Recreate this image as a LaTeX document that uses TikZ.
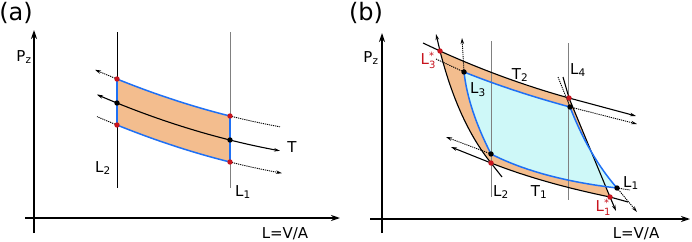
\documentclass[tikz,border=0pt]{standalone}
\usepackage{fontspec}
\setmainfont{DejaVu Sans}
\usetikzlibrary{arrows.meta}
\definecolor{orng}{RGB}{243,189,142}
\definecolor{cyn}{RGB}{206,248,248}
\definecolor{blu}{RGB}{30,112,245}
\definecolor{rd}{RGB}{200,20,30}
\definecolor{gry}{RGB}{128,128,128}
\newcommand{\Lst}[1]{L\rlap{\raisebox{5pt}{\fontsize{10}{10}\selectfont*}}\raisebox{-4pt}{\fontsize{10}{10}\selectfont#1}}
\begin{document}
\begin{tikzpicture}[x=1pt,y=-1pt,
  declare function={fa(\x)=79+0.405*(\x-117)-6.85*((\x-117)/100)^2;},
  ax/.style={line width=1.5pt,-{Stealth[length=9pt,width=6pt]}},
  vline/.style={line width=0.7pt,gry},
  iso/.style={line width=1.1pt},
  ext/.style={line width=0.9pt,dash pattern=on 1.2pt off 0.9pt},
  edge/.style={line width=1.5pt,blu},
  tip/.style={-{Stealth[length=6pt,width=3.5pt]}},
  lab/.style={font=\fontsize{15}{17}\selectfont,inner sep=0pt},
  panel/.style={font=\fontsize{24}{28}\selectfont,inner sep=0pt}]
\useasboundingbox (0,0) rectangle (692,241);
% (a)
\coordinate (a2u) at (117,79);\coordinate (a2m) at (117,103);\coordinate (a2l) at (117,125);
\coordinate (a1u) at (230,116);\coordinate (a1m) at (230,140);\coordinate (a1l) at (230,162);
\fill[orng] plot[domain=117:230,samples=40](\x,{fa(\x)}) -- plot[domain=230:117,samples=40](\x,{fa(\x)+46}) -- cycle;
\draw[vline,black] (117,32)--(117,188);\draw[vline] (230,32)--(230,188);
\draw[ax] (34,233)--(34,30);\draw[ax] (25,218)--(340,218);
\draw[iso,tip] plot[domain=117:97,samples=20](\x,{fa(\x)+24});\draw[iso,tip] plot[domain=117:280,samples=60](\x,{fa(\x)+24});
\draw[ext,tip] plot[domain=117:95,samples=20](\x,{fa(\x)});\draw[ext] plot[domain=230:280,samples=20](\x,{fa(\x)});
\draw[ext] plot[domain=117:97,samples=20](\x,{fa(\x)+46});\draw[ext,tip] plot[domain=230:282,samples=20](\x,{fa(\x)+46});
\draw[edge] plot[domain=117:230,samples=40](\x,{fa(\x)});\draw[edge] plot[domain=117:230,samples=40](\x,{fa(\x)+46});
\draw[edge] (a2u)--(a2l);\draw[edge] (a1u)--(a1l);
\foreach \p in {a2u,a2l,a1u,a1l} \fill[rd] (\p) circle[radius=2.7pt];
\foreach \p in {a2m,a1m} \fill (\p) circle[radius=2.7pt];
\node[panel] (pa) at (16,13) {(a)};\node[lab] (ya) at (24,57) {P\textsubscript{z}};
\node[lab] (xa) at (285,234) {L=V/A};\node[lab] (ta) at (292,147) {T};
\node[lab] (l2a) at (103,168) {L\textsubscript{2}};\node[lab] (l1a) at (243,192) {L\textsubscript{1}};
% (b)
\coordinate (s3) at (440,51);\coordinate (s4) at (569,98);\coordinate (s1) at (610,197);\coordinate (s2) at (491,163);
\coordinate (b3) at (464,72);\coordinate (b4) at (570,107);\coordinate (b1) at (617,188);\coordinate (b2) at (491,154);
\fill[orng] (s3) .. controls (482.7,70.3) and (525.7,86) .. (s4) -- (s1) .. controls (564.7,187.7) and (525,176.3) .. (s2)
  .. controls (469,135.7) and (452,98.3) .. (s3) -- cycle;
\fill[cyn] (b3) .. controls (496.7,85.1) and (532,96.7) .. (b4) .. controls (582.7,139.7) and (598.3,166.7) .. (b1)
  .. controls (565.7,182) and (523.7,170.7) .. (b2) .. controls (475.7,124) and (466.7,96.7) .. (b3) -- cycle;
\draw[vline] (491,41)--(491,197);\draw[vline] (568,43)--(568,200);
\draw[ax] (382,233)--(382,33);\draw[ax] (370,219)--(690,219);
\coordinate (t2a) at (423,43);\coordinate (t2b) at (636,116);\coordinate (t1a) at (451,147);\coordinate (t1b) at (628,202);
\coordinate (r3) at (436,34);\coordinate (r2) at (502,177);\coordinate (r4) at (563,77);\coordinate (r1) at (616,211);
\draw[iso] (t2a)--(s3) .. controls (482.7,70.3) and (525.7,86) .. (s4);\draw[iso,tip] (s4)--(t2b);
\draw[iso,tip] (s3)--(r3);\draw[iso] (s3) .. controls (452,98.3) and (469,135.7) .. (s2)--(r2);
\draw[iso,tip] (s2)--(t1a);\draw[iso] (s2) .. controls (525,176.3) and (564.7,187.7) .. (s1)--(t1b);
\draw[iso] (r4)--(s4)--(s1);\draw[iso,tip] (s1)--(r1);
\coordinate (u3) at (436,59);\coordinate (u4) at (637,124);\coordinate (v3) at (462,38);\coordinate (v4) at (558,77);
\coordinate (u2) at (446,137);\coordinate (u1) at (630,190);\coordinate (v1) at (637,212);
\draw[ext] (u3)--(b3);\draw[ext,tip] (b3)--(v3);\draw[ext,tip] (b4)--(u4);\draw[ext] (v4)--(b4);
\draw[ext,tip] (b2)--(u2);\draw[ext] (b1)--(u1);\draw[ext,tip] (b1)--(v1);
\draw[edge] (b3) .. controls (496.7,85.1) and (532,96.7) .. (b4) .. controls (582.7,139.7) and (598.3,166.7) .. (b1)
  .. controls (565.7,182) and (523.7,170.7) .. (b2) .. controls (475.7,124) and (466.7,96.7) .. (b3) -- cycle;
\foreach \p in {s1,s2,s3,s4} \fill[rd] (\p) circle[radius=2.7pt];
\foreach \p in {b1,b2,b3,b4} \fill (\p) circle[radius=2.7pt];
\node[panel] (pb) at (366,13) {(b)};\node[lab] (yb) at (371,58) {P\textsubscript{z}};
\node[lab] (xb) at (636,234) {L=V/A};
\node[lab,rd] (l3s) at (428,60) {\Lst{3}};\node[lab] (t2) at (520,75) {T\textsubscript{2}};
\node[lab] (l3) at (478,90) {L\textsubscript{3}};\node[lab] (l4) at (578,70) {L\textsubscript{4}};
\node[lab] (l2) at (501,192) {L\textsubscript{2}};\node[lab] (t1) at (539,192) {T\textsubscript{1}};
\node[lab] (l1) at (631,183) {L\textsubscript{1}};\node[lab,rd] (l1s) at (603,207) {\Lst{1}};
\end{tikzpicture}
\end{document}
